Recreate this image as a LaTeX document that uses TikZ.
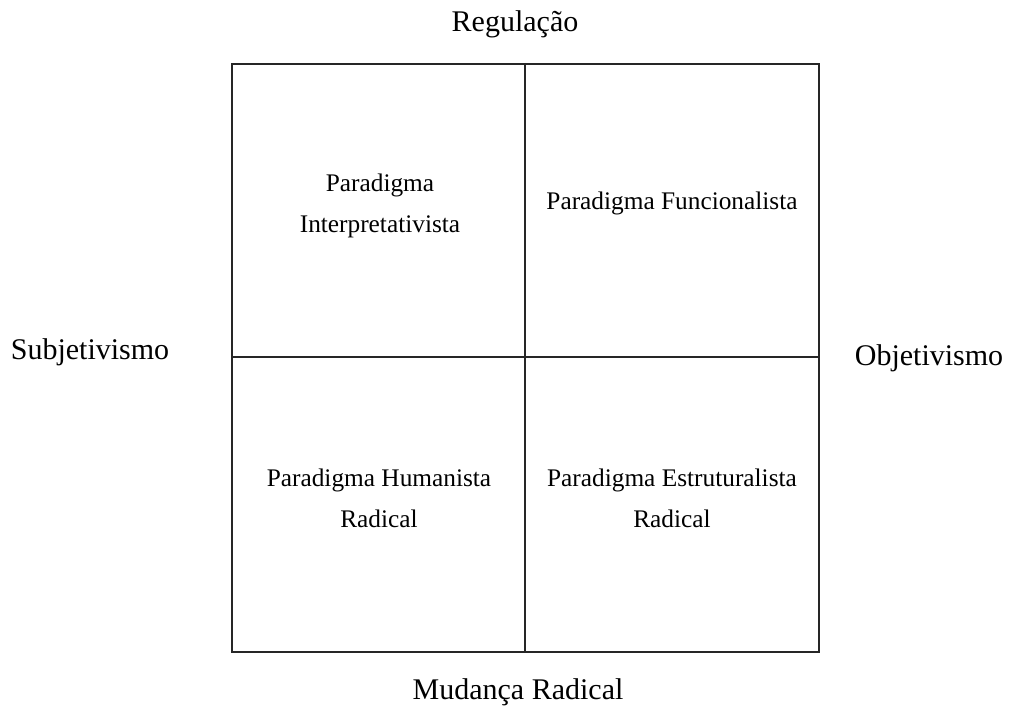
\documentclass[tikz,border=0pt]{standalone}
\usepackage{fontspec}
\setmainfont{Liberation Serif}
\tikzset{
  axislabel/.style={font=\fontsize{22.5}{27}\selectfont, inner sep=0pt},
  quadlabel/.style={font=\fontsize{19}{30.75}\selectfont, align=center, inner sep=0pt},
  frame/.style={line width=1.5pt, draw=black!85}
}
\begin{document}
\begin{tikzpicture}[x=0.75pt,y=-0.75pt]
\useasboundingbox (0,0) rectangle (1017,713);
\node[frame, draw, minimum width=587*0.75pt, minimum height=588*0.75pt, inner sep=0pt, anchor=north west] (box) at (231,63) {};
\coordinate (top) at (525,63);
\coordinate (bot) at (525,651);
\coordinate (left) at (231,357);
\coordinate (right) at (818,357);
\draw[frame] (top) -- (bot);
\draw[frame] (left) -- (right);
\node[axislabel] (reg) at (515,24) {Regulação};
\node[axislabel] (mud) at (518,692) {Mudança Radical};
\node[axislabel] (sub) at (90,352) {Subjetivismo};
\node[axislabel] (obj) at (929,358) {Objetivismo};
\node[quadlabel] (tl) at (380,206) {Paradigma\\Interpretativista};
\node[quadlabel] (tr) at (672,203) {Paradigma Funcionalista};
\node[quadlabel] (bl) at (379,498) {Paradigma Humanista\\Radical};
\node[quadlabel] (br) at (672,498) {Paradigma Estruturalista\\Radical};
\end{tikzpicture}
\end{document}
